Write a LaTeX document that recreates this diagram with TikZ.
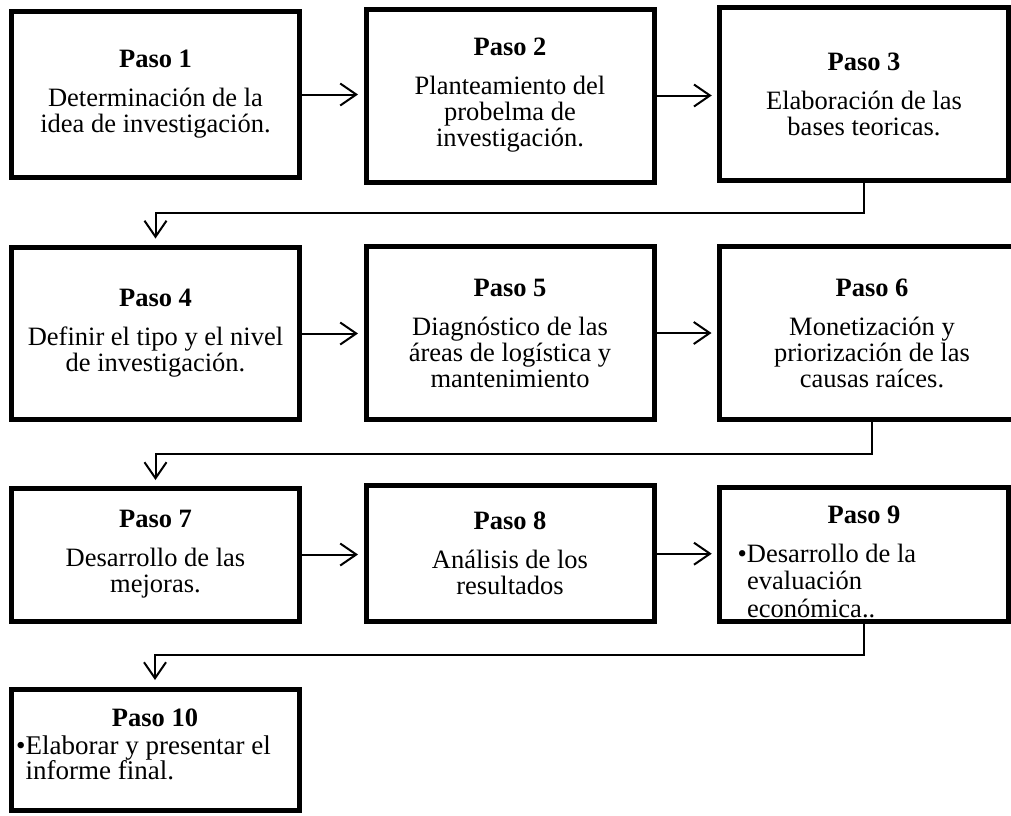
\documentclass[tikz,border=0pt]{standalone}
\usepackage{fontspec}
\setmainfont{Liberation Serif}
\usetikzlibrary{arrows.meta}
\begin{document}
\begin{tikzpicture}[x=1pt,y=-1pt,
  stepbox/.style={draw=black,line width=5pt,inner sep=0pt,align=center,
    font=\fontsize{26.5}{26}\selectfont},
  conn/.style={draw=black,line width=2pt,-{Straight Barb[length=16pt,width=22pt]}},
  txt/.style={inner sep=0pt,anchor=base,font=\fontsize{26.5}{26}\selectfont},
  bullettxt/.style={inner sep=0pt,anchor=base west,font=\fontsize{26.5}{26}\selectfont}]
\useasboundingbox (0,0) rectangle (1011,815);
\clip (0,0) rectangle (1011,815);

% Row 1
\node[stepbox,minimum width=287.5pt,minimum height=166pt] (b1) at (155.5,94.5)
  {\textbf{Paso 1}\\[13pt]Determinación de la\\idea de investigación.};
\node[stepbox,minimum width=288pt,minimum height=173pt] (b2) at (510,95.5)
  {\textbf{Paso 2}\\[13pt]Planteamiento del\\probelma de\\investigación.};
\node[stepbox,minimum width=288.5pt,minimum height=172.5pt] (b3) at (864,94)
  {\textbf{Paso 3}\\[13pt]Elaboración de las\\bases teoricas.};

% Row 2
\node[stepbox,minimum width=287.5pt,minimum height=172pt] (b4) at (155.5,333.5)
  {\textbf{Paso 4}\\[13pt]Definir el tipo y el nivel\\de investigación.};
\node[stepbox,minimum width=288pt,minimum height=172.5pt] (b5) at (510,333)
  {\textbf{Paso 5}\\[13pt]Diagnóstico de las\\áreas de logística y\\mantenimiento};
\node[stepbox,minimum width=305pt,minimum height=172.5pt] (b6) at (872,333)
  {\textbf{Paso 6}\\[13pt]Monetización y\\priorización de las\\causas raíces.};

% Row 3
\node[stepbox,minimum width=287.5pt,minimum height=133pt] (b7) at (155.5,554.5)
  {\textbf{Paso 7}\\[13pt]Desarrollo de las\\mejoras.};
\node[stepbox,minimum width=288pt,minimum height=135.5pt] (b8) at (510,553.7)
  {\textbf{Paso 8}\\[13pt]Análisis de los\\resultados};

% Box 9 text (drawn before its border)
\node[txt] (t9) at (864,523) {\textbf{Paso 9}};
\node[bullettxt] (t9a) at (737.5,562) {•Desarrollo de la};
\node[bullettxt] (t9b) at (747,589) {evaluación};
\node[bullettxt] (t9c) at (747,617) {económica..};
\node[stepbox,minimum width=288.5pt,minimum height=134pt] (b9) at (864,554.5) {};

% Row 4
\node[txt] (t10) at (155,726) {\textbf{Paso 10}};
\node[bullettxt,font=\fontsize{27}{26}\selectfont] (t10a) at (16,754) {•Elaborar y presentar el};
\node[bullettxt,font=\fontsize{27}{26}\selectfont] (t10b) at (25.5,779.5) {informe final.};
\node[stepbox,minimum width=288pt,minimum height=121pt] (b10) at (155,749.5) {};

% Connectors
\draw[conn,shorten >=5.5pt] (b1.east) -- (b1.east -| b2.west);
\draw[conn,shorten >=5.5pt] (b2.east) -- (b2.east -| b3.west);
\draw[conn,shorten >=5.5pt] (b4.east) -- (b4.east -| b5.west);
\draw[conn,shorten >=5.5pt] (b5.east) -- (b5.east -| b6.west);
\draw[conn,shorten >=5.5pt] (b7.east) -- (b7.east -| b8.west);
\draw[conn,shorten >=5.5pt] (b8.east) -- (b8.east -| b9.west);

\draw[conn,shorten >=6.5pt] (b3.south) -- ++(0,30) -| (b4.north);
\draw[conn,shorten >=5.5pt] (b6.south) -- ++(0,32) -| (b7.north);
\draw[conn,shorten >=6.5pt] (b9.south) -- ++(0,31) -| (b10.north);
\end{tikzpicture}
\end{document}
